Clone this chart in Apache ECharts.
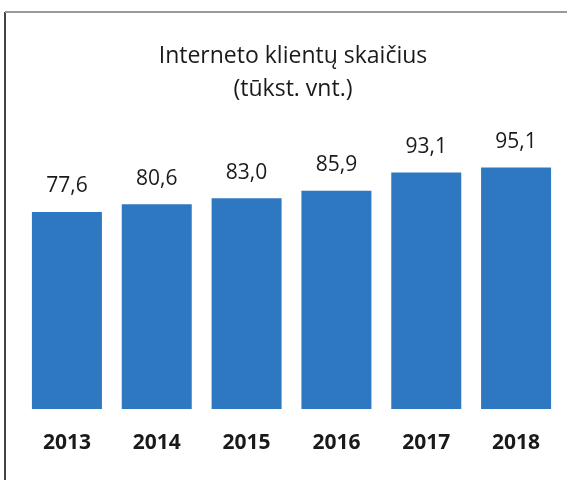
<!DOCTYPE html>
<html>
<head>
<meta charset="utf-8">
<script src="https://cdn.jsdelivr.net/npm/echarts@6/dist/echarts.min.js"></script>
<style>
  html, body { margin: 0; padding: 0; background: #fff; }
  #chart { width: 567px; height: 480px; }
</style>
</head>
<body>
<div id="chart"></div>
<script>
// Internet client counts per year (thousand units)
const years = ["2013", "2014", "2015", "2016", "2017", "2018"];
const clients = [77.6, 80.6, 83.0, 85.9, 93.1, 95.1];

const chart = echarts.init(document.getElementById("chart"));

const option = {
  backgroundColor: "#fff",
  title: {
    text: "Interneto klientų skaičius\n(tūkst. vnt.)",
    left: 288,
    textAlign: "center", // centre the text on the left position
    top: 35,
    textStyle: {
      fontFamily: "Open Sans",
      fontSize: 23,
      fontWeight: "normal",
      color: "#1a1a1a",
      lineHeight: 33,
    },
  },
  // scanned frame: dark left edge, lighter top edge
  graphic: [
    {
      type: "line",
      shape: { x1: 5, y1: 12, x2: 5, y2: 480 },
      style: { stroke: "#444", lineWidth: 2 },
    },
    {
      type: "line",
      shape: { x1: 5, y1: 12, x2: 567, y2: 12 },
      style: { stroke: "#999", lineWidth: 2 },
    },
  ],
  grid: { left: 22, right: 6, top: 155, bottom: 71 },
  xAxis: {
    type: "category",
    data: years,
    axisLine: { show: false },
    axisTick: { show: false },
    axisLabel: {
      margin: 24,
      fontFamily: "Open Sans",
      fontSize: 21,
      fontWeight: "bold",
      color: "#1a1a1a",
    },
  },
  yAxis: {
    type: "value",
    min: 0,
    max: 100,
    show: false,
    splitLine: { show: false },
  },
  series: [
    {
      name: "Interneto klientai",
      type: "bar",
      data: clients,
      barWidth: 70,
      itemStyle: { color: "#2e78c2" },
      label: {
        show: true,
        position: "top",
        distance: 15,
        fontFamily: "Open Sans",
        fontSize: 21,
        color: "#1a1a1a",
        formatter: (p) => p.value.toFixed(1).replace(".", ","),
      },
    },
  ],
};

chart.setOption(option);
</script>
</body>
</html>
